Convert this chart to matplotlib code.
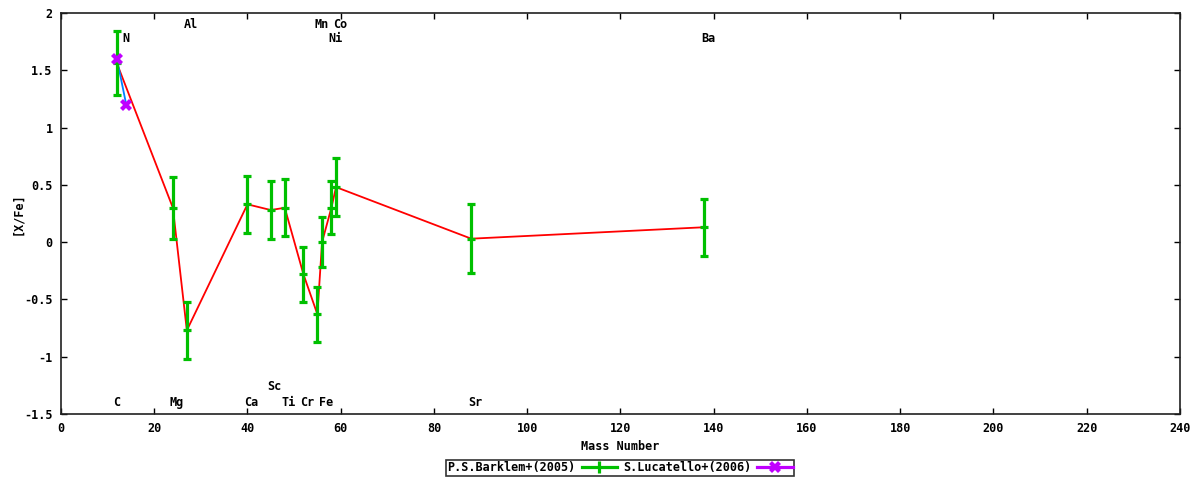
import matplotlib
matplotlib.use("Agg")
import matplotlib.pyplot as plt
from matplotlib.lines import Line2D

# Barklem et al. (2005)
bk_mass = [12, 24, 27, 40, 45, 48, 52, 55, 56, 58, 59, 88, 138]
bk_val = [1.56, 0.30, -0.77, 0.33, 0.28, 0.30, -0.28, -0.63, 0.00, 0.30, 0.48, 0.03, 0.13]
bk_err = [0.28, 0.27, 0.25, 0.25, 0.25, 0.25, 0.24, 0.24, 0.22, 0.23, 0.25, 0.30, 0.25]

# Lucatello et al. (2006)
lu_mass = [12, 14]
lu_val = [1.60, 1.20]
lu_err = [0.0, 0.0]

# element labels
el_names = ["C", "N", "Mg", "Al", "Ca", "Sc", "Ti", "Cr", "Mn", "Fe", "Co", "Ni", "Sr", "Ba"]
el_mass = [12, 14, 24, 27, 40, 45, 48, 52, 55, 56, 59, 58, 88, 138]
el_ypos = [-1.40, 1.78, -1.40, 1.90, -1.40, -1.26, -1.40, -1.40, 1.90, -1.40, 1.90, 1.78, -1.40, 1.78]

xticks = [0, 20, 40, 60, 80, 100, 120, 140, 160, 180, 200, 220, 240]
yticks = [-1.5, -1, -0.5, 0, 0.5, 1, 1.5, 2]
ytick_labels = ["-1.5", "-1", "-0.5", "0", "0.5", "1", "1.5", "2"]

RED = "#ff0000"
GREEN = "#00c000"
BLUE = "#0080ff"
MAG = "#c000ff"
FONT = dict(family="DejaVu Sans Mono", fontweight="bold", fontsize=8.5)

fig = plt.figure(figsize=(12, 4.8), dpi=100)
ax = fig.add_axes([0.0508, 0.1375, 0.9325, 0.8355])

ax.plot(bk_mass, bk_val, color=RED, lw=1.3, zorder=2)
ax.plot(lu_mass, lu_val, color=BLUE, lw=1.3, zorder=2)
ax.errorbar(bk_mass, bk_val, yerr=bk_err, fmt="_", color=GREEN, ecolor=GREEN,
            elinewidth=2.3, capsize=2.9, capthick=2.3, markersize=6, mew=2.3, zorder=3)
ax.errorbar(lu_mass, lu_val, yerr=lu_err, fmt="X", color=MAG, ecolor=MAG,
            elinewidth=2.3, capsize=3.2, capthick=3.5, markersize=8, mew=0, zorder=4)

for name, m, y in zip(el_names, el_mass, el_ypos):
    off = 0.8 if len(name) > 1 else 0.0
    ax.text(m + off, y, name, ha="center", va="center", **FONT)

ax.set_xlim(0, 240)
ax.set_ylim(-1.5, 2)
ax.set_xticks(xticks)
ax.set_xticklabels([str(t) for t in xticks], **FONT)
ax.set_yticks(yticks)
ax.set_yticklabels(ytick_labels, **FONT)
ax.tick_params(direction="in", length=4, width=1, top=True, right=True, pad=6)
for s in ax.spines.values():
    s.set_linewidth(1.2)
    s.set_color("#202020")

ax.set_xlabel("Mass Number", labelpad=3, **FONT)
ax.yaxis.set_label_coords(-0.0385, 0.5)
ax.set_ylabel("[X/Fe]", va="center", **FONT)

h1 = Line2D([], [], color=GREEN, lw=2.3, marker="|", markersize=8, mew=2.3)
h2 = Line2D([], [], color=MAG, lw=2.3, marker="X", markersize=8, mew=0)
leg = fig.legend([h1, h2], ["P.S.Barklem+(2005)", "S.Lucatello+(2006)"], ncol=2,
                 loc="center", bbox_to_anchor=(0.5167, 0.025), markerfirst=False,
                 frameon=True, fancybox=False, edgecolor="black", borderpad=0.1,
                 handlelength=3.0, handletextpad=0.5, columnspacing=0.5,
                 borderaxespad=0.0,
                 prop=dict(family="DejaVu Sans Mono", weight="bold", size=8.5))
leg.get_frame().set_linewidth(1.2)

fig.savefig("out.png", dpi=100)
